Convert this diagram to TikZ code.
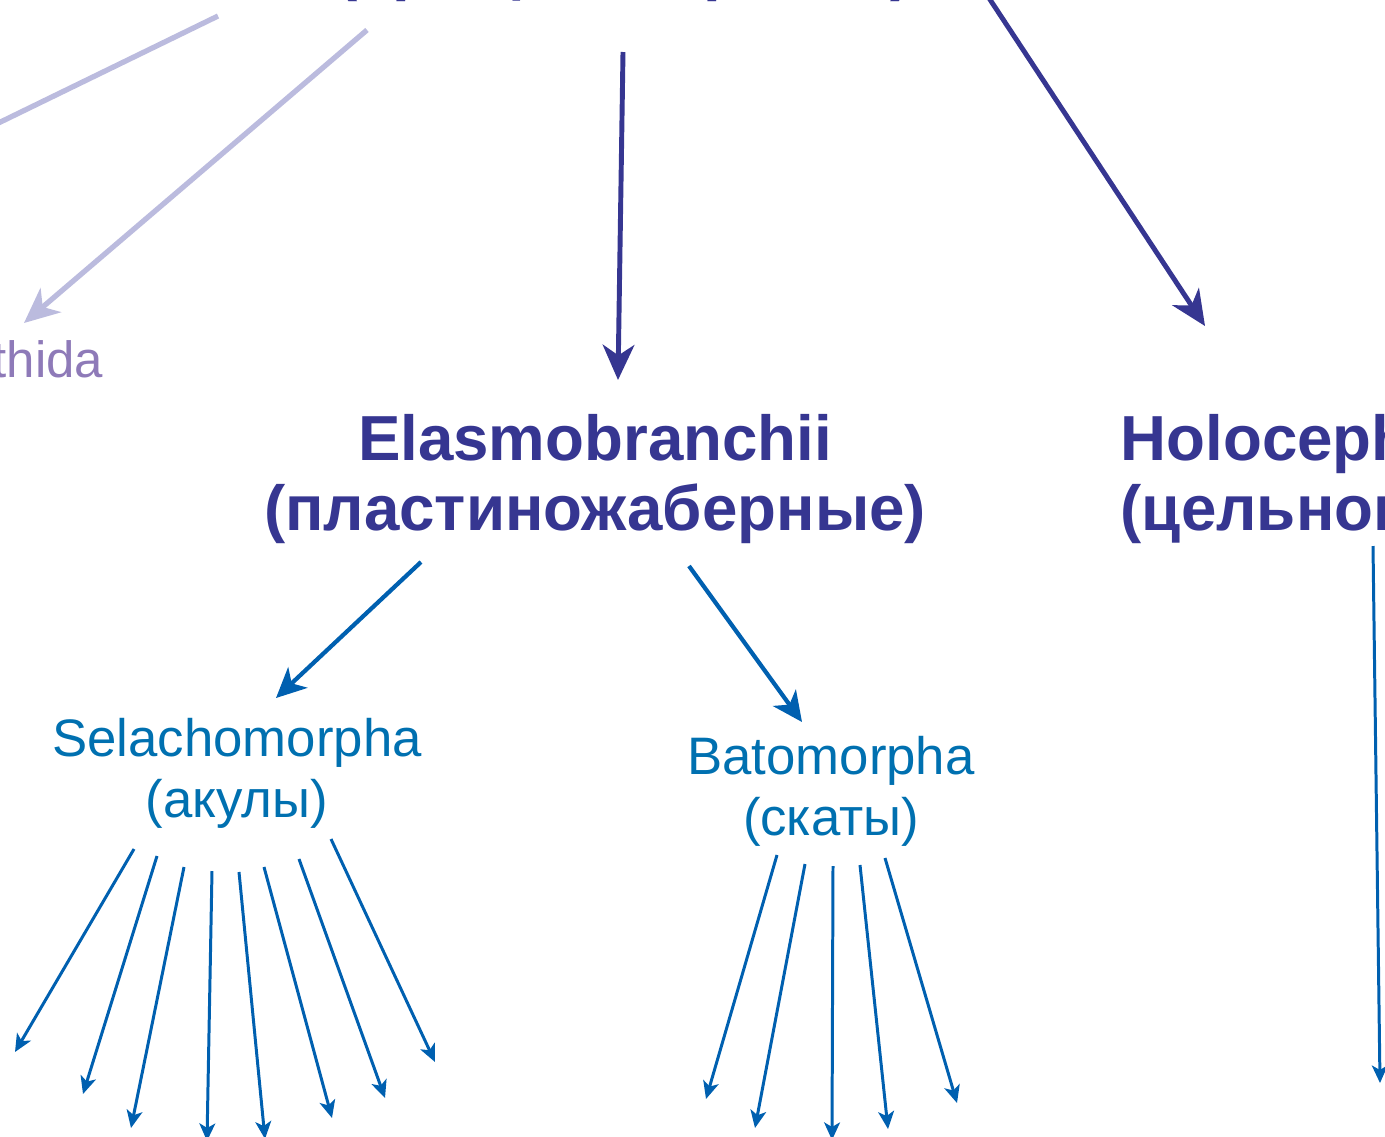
\documentclass[tikz,border=0pt]{standalone}
\usepackage{fontspec}
\setmainfont{Liberation Sans}
\usetikzlibrary{arrows.meta}
\definecolor{navy}{RGB}{54,54,145}
\definecolor{lav}{RGB}{187,187,222}
\definecolor{lavtext}{RGB}{142,122,184}
\definecolor{seablue}{RGB}{0,112,176}
\definecolor{arrblue}{RGB}{0,96,176}
\begin{document}
\begin{tikzpicture}[x=0.01cm,y=-0.01cm,
    classtext/.style={font=\fontsize{18.1}{19.9}\selectfont\bfseries,text=navy,inner sep=0pt},
    ordertext/.style={font=\fontsize{15}{17.1}\selectfont,text=seablue,inner sep=0pt,align=center},
    fadedline/.style={draw=lav,line width=1.5pt},
    fadedarrow/.style={fadedline,-{Stealth[length=10pt,width=9pt,inset=3pt]}},
    mainarrow/.style={draw=navy,line width=1.4pt,-{Stealth[length=10pt,width=9pt,inset=3pt]}},
    subarrow/.style={draw=arrblue,line width=1.2pt,-{Stealth[length=8.5pt,width=8pt,inset=2.4pt]}},
    fanarrow/.style={draw=arrblue,line width=0.85pt,-{Stealth[length=5pt,width=4.5pt,inset=1.3pt]}}]
        \useasboundingbox (0,0) rectangle (1385,1136);
        \clip (0,0) rectangle (1385,1136);
        % classes
        \node[classtext,align=center,anchor=south] (chondro) at (624,2) {Chondrichthyes\\(хрящевые рыбы)};
        \node[classtext,align=center,anchor=north] (elasmo) at (595,414) {Elasmobranchii\\(пластиножаберные)};
        \node[classtext,align=left,anchor=north west] (holo) at (1120,414) {Holocephali\\(цельноголовые)};
        \node[font=\fontsize{14.5}{17}\selectfont,text=lavtext,inner sep=0pt,anchor=base east] (other) at (104,377) {thida};
        % orders
        \node[ordertext,anchor=north] (selacho) at (237,718) {Selachomorpha\\(акулы)};
        \node[ordertext,anchor=north] (bato) at (831,736) {Batomorpha\\(скаты)};
        % arrow ends
        \foreach \n/\x/\y in {fa/218/16,fb/-20/132,fc/367/30,fd/24/323,ma/623/52,mb/618/380,mc/987/-5,md/1205/326,
                ea/421/562,eb/276/698,ec/689/566,ed/802/722,ha/1373/546,hb/1380/1083}{
            \coordinate (\n) at (\x,\y);
        }
        \draw[fadedline] (fa) -- (fb);
        \draw[fadedarrow] (fc) -- (fd);
        \foreach \m/\n in {ma/mb,mc/md}{
            \draw[mainarrow] (\m) -- (\n);
        }
        \foreach \m/\n in {ea/eb,ec/ed}{
            \draw[subarrow] (\m) -- (\n);
        }
        \draw[fanarrow] (ha) -- (hb);
        % fans below the orders
        \foreach \i/\x/\y/\u/\v in {1/134/849/15/1052,2/157/856/83/1094,3/184/867/131/1128,4/212/871/207/1141,
                5/239/872/265/1139,6/264/867/332/1118,7/299/859/385/1098,8/331/839/435/1062}{
            \coordinate (sa\i) at (\x,\y);
            \coordinate (sb\i) at (\u,\v);
            \draw[fanarrow] (sa\i) -- (sb\i);
        }
        \foreach \i/\x/\y/\u/\v in {1/777/855/706/1099,2/805/864/755/1128,3/833/866/832/1140,
                4/860/865/888/1129,5/885/858/957/1103}{
            \coordinate (ba\i) at (\x,\y);
            \coordinate (bb\i) at (\u,\v);
            \draw[fanarrow] (ba\i) -- (bb\i);
        }
    \end{tikzpicture}
\end{document}
